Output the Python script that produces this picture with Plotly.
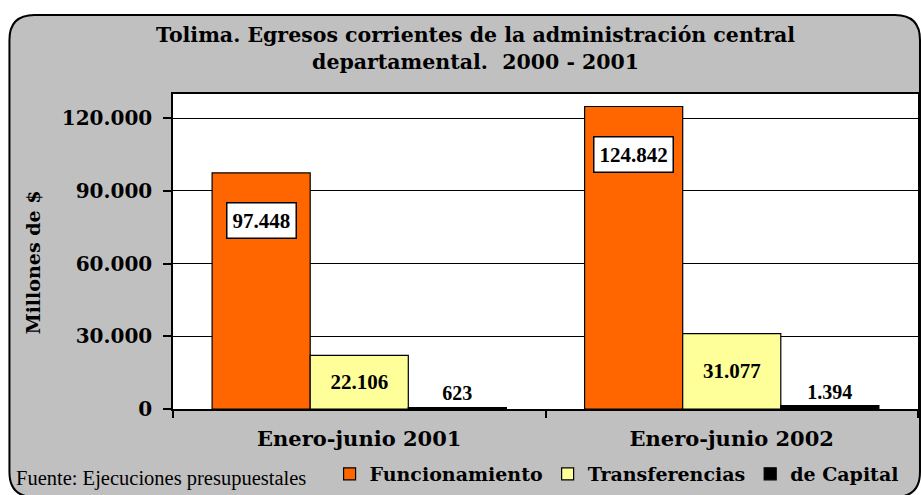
import plotly.graph_objects as go

categories = ["Enero-junio 2001", "Enero-junio 2002"]
funcionamiento = [97448, 124842]
transferencias = [22106, 31077]
capital = [623, 1394]
series_names = ["Funcionamiento", "Transferencias", "de Capital"]
tick_vals = [0, 30000, 60000, 90000, 120000]

W, H = 921, 495
PLOT_L, PLOT_R, PLOT_T, PLOT_B = 173, 920, 94, 409
ML, MR, MT, MB = PLOT_L, W - PLOT_R, PLOT_T, H - PLOT_B
PW = W - ML - MR
PH = H - MT - MB

def px(x):
    return (x - PLOT_L) / PW

def py(y):
    return (PLOT_B - y) / PH

SERIF_B = dict(family="DejaVu Serif", color="black", weight="bold")

bargap = 0.21
bw = (1 - bargap) / 3

fig = go.Figure()
fig.add_trace(go.Bar(name=series_names[0], x=categories, y=funcionamiento,
                     marker=dict(color="#FF6600", line=dict(color="black", width=1.2))))
fig.add_trace(go.Bar(name=series_names[1], x=categories, y=transferencias,
                     marker=dict(color="#FFFF99", line=dict(color="black", width=1.2)),
                     texttemplate="%{y:,d}", textposition="inside", insidetextanchor="middle",
                     textfont=dict(family="Liberation Serif", size=21, color="black", weight="bold")))
fig.add_trace(go.Bar(name=series_names[2], x=categories, y=capital,
                     marker=dict(color="#000000", line=dict(color="black", width=1.2)),
                     texttemplate="%{y:,d}", textposition="outside", cliponaxis=False,
                     textfont=dict(family="Liberation Serif", size=20, color="black", weight="bold")))

annotations = []
for i, v in enumerate(funcionamiento):
    annotations.append(dict(x=i - bw, y=v, xref="x", yref="y", yshift=-48,
                            text=f"{v:,}".replace(",", "."), showarrow=False,
                            font=dict(family="Liberation Serif", size=21, color="black", weight="bold"),
                            bgcolor="white", bordercolor="black", borderwidth=1.5, borderpad=5))

annotations.append(dict(x=px(14), y=py(478), xref="paper", yref="paper",
                        xanchor="left", yanchor="middle", showarrow=False,
                        text="Fuente: Ejecuciones presupuestales",
                        font=dict(family="Liberation Serif", size=20.5, color="black")))
annotations.append(dict(x=px(476), y=py(48), xref="paper", yref="paper", xanchor="center", yanchor="middle",
                        showarrow=False,
                        text="Tolima. Egresos corrientes de la administración central<br>departamental.  2000 - 2001",
                        font=dict(size=20.5, **SERIF_B)))
annotations.append(dict(x=px(33), y=py(262), xref="paper", yref="paper", xanchor="center", yanchor="middle",
                        showarrow=False, textangle=-90, text="Millones de $",
                        font=dict(size=19, **SERIF_B)))

L, R, T, B = px(9), px(922), py(15), py(497)
rx, ry = 25 / PW, 25 / PH
frame_path = (f"M {L},{B + ry} L {L},{T - ry} Q {L},{T} {L + rx},{T} L {R - rx},{T} Q {R},{T} {R},{T - ry} "
              f"L {R},{B + ry} Q {R},{B} {R - rx},{B} L {L + rx},{B} Q {L},{B} {L},{B + ry} Z")

shapes = [
    dict(type="path", path=frame_path, xref="paper", yref="paper", fillcolor="#C0C0C0",
         line=dict(color="black", width=2), layer="below"),
    dict(type="rect", x0=0, x1=1, y0=0, y1=1, xref="paper", yref="paper", fillcolor="white",
         line=dict(width=0), layer="below"),
]

fig.update_layout(
    width=W, height=H,
    margin=dict(l=ML, r=MR, t=MT, b=MB),
    paper_bgcolor="white", plot_bgcolor="white",
    separators=",.",
    barmode="group", bargap=bargap, bargroupgap=0,
    showlegend=True,
    legend=dict(orientation="h", x=px(330), y=py(474), xanchor="left", yanchor="middle",
                bgcolor="rgba(0,0,0,0)", traceorder="normal", itemwidth=30,
                font=dict(size=19, **SERIF_B)),
    annotations=annotations, shapes=shapes,
    xaxis=dict(tickson="boundaries", ticks="outside", ticklen=7, tickcolor="black", tickwidth=1.5,
               showline=True, linecolor="black", linewidth=1.5, mirror=True, ticklabelstandoff=10,
               tickfont=dict(size=21, **SERIF_B)),
    yaxis=dict(range=[0, 130000], tickvals=tick_vals, tickformat=",d", ticks="outside", ticklen=8,
               tickcolor="black", tickwidth=1.5, showline=True, linecolor="black", linewidth=1.5,
               mirror=True, showgrid=True, gridcolor="black", gridwidth=1.3, zeroline=False,
               ticklabelstandoff=7,
               tickfont=dict(size=20, **SERIF_B)),
)

fig.write_html("out.html", config={"displayModeBar": False},
               post_script="document.body.style.margin='0';document.body.style.overflow='hidden';")
